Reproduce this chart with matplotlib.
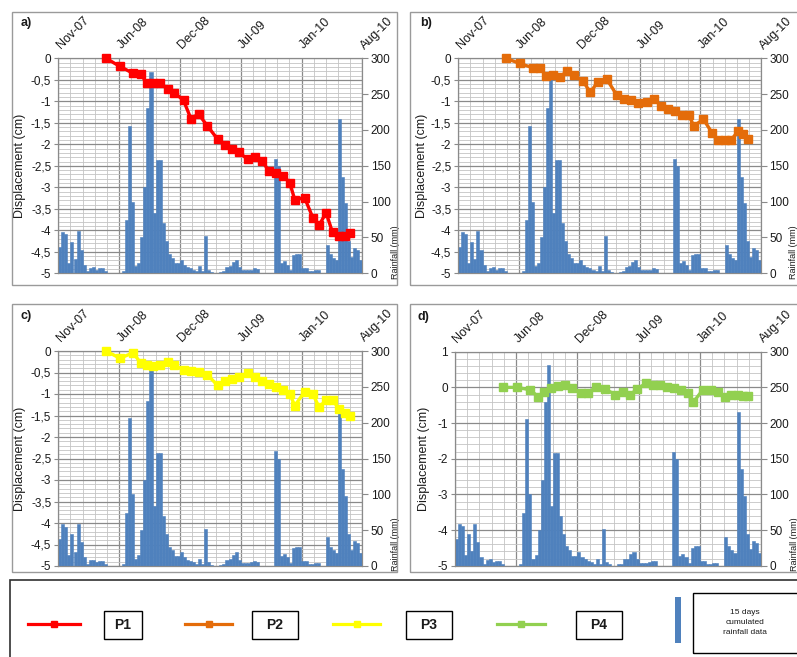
import pandas as pd
import matplotlib
matplotlib.use('Agg')
import matplotlib.pyplot as plt
import matplotlib.dates as mdates
from matplotlib.ticker import FixedLocator, FixedFormatter, MultipleLocator, FuncFormatter
from matplotlib.transforms import ScaledTranslation
from matplotlib.lines import Line2D
from matplotlib.patches import Rectangle

plt.rcParams['font.family'] = ['Liberation Sans', 'DejaVu Sans']

# survey dates, shared by the four monitoring points
survey_dates = pd.to_datetime([
    '2008-04-20', '2008-06-05', '2008-07-18', '2008-08-12', '2008-09-01', '2008-09-23',
    '2008-10-15', '2008-11-09', '2008-12-01', '2008-12-31', '2009-01-24', '2009-02-19',
    '2009-03-19', '2009-04-22', '2009-05-16', '2009-06-09', '2009-07-02', '2009-07-30',
    '2009-08-24', '2009-09-15', '2009-10-07', '2009-10-30', '2009-11-24', '2009-12-15',
    '2010-01-01', '2010-02-02', '2010-03-02', '2010-03-22', '2010-04-14', '2010-05-05',
    '2010-05-27', '2010-06-14', '2010-06-30'])

# displacement (cm)
p1 = [0, -0.19, -0.35, -0.36, -0.58, -0.57, -0.57, -0.72, -0.80, -0.98, -1.40, -1.30,
      -1.57, -1.88, -2.02, -2.12, -2.19, -2.35, -2.29, -2.39, -2.61, -2.66, -2.73, -2.89,
      -3.29, -3.24, -3.72, -3.88, -3.59, -4.05, -4.13, -4.13, -4.07]
p2 = [0, -0.12, -0.22, -0.23, -0.42, -0.39, -0.43, -0.30, -0.39, -0.53, -0.79, -0.54,
      -0.48, -0.86, -0.95, -0.97, -1.03, -1.02, -0.95, -1.11, -1.17, -1.22, -1.33, -1.32,
      -1.57, -1.42, -1.73, -1.91, -1.91, -1.89, -1.70, -1.75, -1.87]
p3 = [0, -0.17, -0.04, -0.28, -0.33, -0.34, -0.33, -0.25, -0.33, -0.44, -0.46, -0.48,
      -0.55, -0.80, -0.70, -0.65, -0.60, -0.52, -0.60, -0.70, -0.77, -0.84, -0.90, -1.00,
      -1.27, -0.95, -1.01, -1.31, -1.14, -1.13, -1.36, -1.45, -1.51]
p4 = [0, 0, -0.07, -0.26, -0.12, -0.01, 0.05, 0.08, -0.01, -0.17, -0.15, 0.02,
      -0.05, -0.20, -0.12, -0.21, -0.05, 0.11, 0.08, 0.06, 0.02, -0.01, -0.07, -0.17,
      -0.42, -0.07, -0.07, -0.12, -0.26, -0.20, -0.21, -0.23, -0.25]

# 15 days cumulated rainfall (mm), one bar every 10 days from 15 Nov 2007
rain_start = '2007-11-15'
rain_15d = [37, 58, 55, 15, 44, 20, 59, 33, 12, 3,
            8, 9, 5, 7, 7, 3, 0, 0, 0, 0,
            0, 3, 74, 206, 100, 10, 15, 50, 120, 230,
            281, 84, 158, 158, 70, 45, 27, 22, 14, 14,
            19, 12, 9, 7, 5, 3, 10, 3, 52, 5,
            2, 0, 0, 2, 3, 9, 10, 16, 19, 9,
            4, 4, 4, 5, 7, 6, 0, 0, 0, 0,
            0, 160, 150, 14, 17, 12, 4, 25, 27, 27,
            7, 7, 3, 3, 4, 4, 0, 0, 40, 27,
            22, 18, 216, 135, 98, 45, 23, 35, 32, 18]
rain_dates = pd.date_range(rain_start, periods=len(rain_15d), freq='10D')

date_labels = ['Nov-07', 'Jun-08', 'Dec-08', 'Jul-09', 'Jan-10', 'Aug-10']

W, H = 797, 657
fig = plt.figure(figsize=(W / 100, H / 100), dpi=100)


def fx(x):
    return x / W


def fy(y):
    return 1 - y / H


x0 = mdates.date2num(pd.Timestamp(rain_start))
x1 = x0 + 1000
major_x = [x0 + 200 * k for k in range(6)]
minor_x = [x0 + 40 * k for k in range(26)]

GRID_MAJ = '#8a8a8a'
GRID_MIN = '#c4c4c4'
TXT = '#1a1a1a'
label_shift = ScaledTranslation(0.045, 0.04, fig.dpi_scale_trans)


def comma(v, pos):
    return ('%g' % v).replace('.', ',')


def panel(left, top, right, bottom, tag, values, color, ylim, ystep, yminor, ylab_x):
    ax = fig.add_axes([fx(left), fy(bottom), fx(right - left), (bottom - top) / H])
    ax.set_xlim(x0, x1)
    ax.set_ylim(*ylim)
    ax.xaxis.set_major_locator(FixedLocator(major_x))
    ax.xaxis.set_major_formatter(FixedFormatter(date_labels))
    ax.xaxis.set_minor_locator(FixedLocator(minor_x))
    ax.xaxis.tick_top()
    ax.tick_params(axis='x', which='both', length=0, pad=2, labelsize=9, labelcolor=TXT)
    ax.yaxis.set_major_locator(MultipleLocator(ystep))
    ax.yaxis.set_minor_locator(MultipleLocator(yminor))
    ax.yaxis.set_major_formatter(FuncFormatter(comma))
    ax.tick_params(axis='y', which='major', length=3, pad=2, labelsize=8.5,
                   labelcolor=TXT, color=GRID_MAJ)
    ax.tick_params(axis='y', which='minor', length=0)
    ax.grid(which='major', color=GRID_MAJ, lw=0.9)
    ax.grid(which='minor', color=GRID_MIN, lw=0.6)
    ax.set_axisbelow(True)
    for s in ax.spines.values():
        s.set_color(GRID_MAJ)
        s.set_linewidth(0.8)
    ax.text(ylab_x, 0.5, 'Displacement (cm)', transform=ax.transAxes, rotation=90,
            ha='center', va='center', fontsize=9, color=TXT)

    # rainfall bars on the right axis
    ax2 = ax.twinx()
    ax2.bar(rain_dates, rain_15d, width=10, align='edge', color='#4F81BD',
            edgecolor='#4F81BD', linewidth=0.4)
    ax2.set_ylim(0, 300)
    ax2.yaxis.set_major_locator(MultipleLocator(50))
    ax2.tick_params(axis='y', length=4, pad=2, labelsize=8.5, labelcolor=TXT, color=GRID_MAJ)
    for s in ax2.spines.values():
        s.set_color(GRID_MAJ)
        s.set_linewidth(0.8)
    ax2.text(1.108, 0.1, 'Rainfall (mm)', transform=ax2.transAxes, rotation=90,
             ha='center', va='center', fontsize=6.5, color=TXT)

    # displacement line on top of the bars
    ax3 = ax.twinx()
    ax3.set_ylim(*ylim)
    ax3.axis('off')
    ax3.plot(survey_dates, values, color=color, lw=2.4, marker='s', ms=5.8,
             markerfacecolor=color, markeredgecolor=color, clip_on=False)

    # slanted date labels along the top
    for t in ax.xaxis.get_majorticklabels():
        t.set_rotation(45)
        t.set_horizontalalignment('left')
        t.set_verticalalignment('bottom')
        t.set_rotation_mode('anchor')
        t.set_transform(t.get_transform() + label_shift)

    fig.text(fx(left - 38), fy(top - 35), tag, fontsize=9, fontweight='bold',
             ha='left', va='center', color=TXT)


panel(58.3, 58.3, 362.3, 273.3, 'a)', p1, '#FF0000', (-5, 0), 0.5, 0.1, -0.125)
panel(458.3, 58.3, 761, 273.3, 'b)', p2, '#E46C0A', (-5, 0), 0.5, 0.1, -0.12)
panel(58.3, 351, 362.3, 566, 'c)', p3, '#FFFF00', (-5, 0), 0.5, 0.1, -0.125)
panel(455, 351.7, 761, 565.7, 'd)', p4, '#92D050', (-5, 1), 1, 0.2, -0.1)

# panel frames
for (l, t, r, b) in [(12, 12, 397, 285), (410, 12, 800, 285),
                     (12, 304, 397, 572), (410, 304, 800, 572)]:
    fig.add_artist(Rectangle((fx(l), fy(b)), fx(r - l), (b - t) / H,
                             transform=fig.transFigure, fill=False,
                             ec='#9a9a9a', lw=1))

# legend box
fig.add_artist(Rectangle((fx(10), fy(662)), fx(792), 82 / H, transform=fig.transFigure,
                         fill=False, ec='#303030', lw=1.2))
legend_items = [('P1', '#FF0000', 28, 80, 104, 142),
                ('P2', '#E46C0A', 185, 232, 252, 298),
                ('P3', '#FFFF00', 333, 380, 406, 452),
                ('P4', '#92D050', 497, 545, 576, 622)]
ly = 624
for name, col, a, b, bl, br in legend_items:
    fig.add_artist(Line2D([fx(a), fx(b)], [fy(ly), fy(ly)], transform=fig.transFigure,
                          color=col, lw=2.3))
    fig.add_artist(Line2D([fx((a + b) / 2)], [fy(ly)], transform=fig.transFigure,
                          color=col, marker='s', ms=4.5))
    fig.add_artist(Rectangle((fx(bl), fy(639)), fx(br - bl), 28 / H,
                             transform=fig.transFigure, fill=False, ec='black', lw=1))
    fig.text(fx((bl + br) / 2), fy(625), name, ha='center', va='center',
             fontsize=10, fontweight='bold', color=TXT)

fig.add_artist(Rectangle((fx(675), fy(643)), fx(6), 46 / H, transform=fig.transFigure,
                         color='#4F81BD', lw=0))
fig.add_artist(Rectangle((fx(693), fy(653)), fx(110), 60 / H, transform=fig.transFigure,
                         fill=False, ec='black', lw=1))
fig.text(fx(745), fy(623), '15 days\ncumulated\nrainfall data', ha='center', va='center',
         fontsize=6, color=TXT, linespacing=1.6)

fig.savefig('out.png', dpi=100)
